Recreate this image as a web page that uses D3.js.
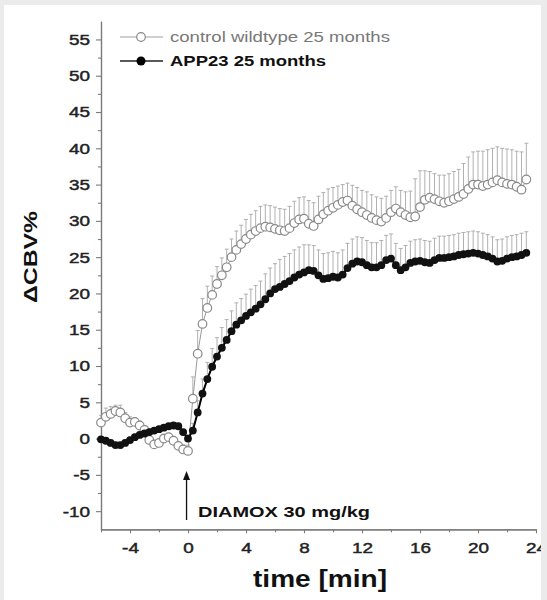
<!DOCTYPE html>
<html>
<head>
<meta charset="utf-8">
<script src="https://cdn.jsdelivr.net/npm/d3@7"></script>
<style>
	html, body { margin: 0; padding: 0; background: #ebebeb; }
	svg { display: block; }
	text { font-family: "Liberation Sans", Arial, sans-serif; }
</style>
</head>
<body>
<svg id="chart" width="547" height="600"></svg>
<script>
// sampling grid: one point every 20 s, starting 6 min before injection
var startTime = -6;
var stepTime = 1 / 3;

var controlValues = [
	2.2, 3.0, 3.4, 3.8, 3.6, 2.8, 2.2, 2.3, 1.8, 1.2, -0.2, -0.8, -0.6, 0.0, 0.2, -0.3, -1.0, -1.5,
	-1.7, 5.5, 11.7, 15.8, 18.0, 19.8, 21.3, 22.5, 23.6, 25.0, 26.0, 26.8, 27.5, 28.1, 28.6, 29.0,
	29.2, 29.1, 28.9, 28.7, 28.6, 29.0, 29.7, 30.2, 30.3, 29.6, 29.3, 30.2, 30.9, 31.4, 31.8, 32.2,
	32.6, 32.8, 32.1, 31.6, 31.2, 30.8, 30.4, 30.1, 29.9, 30.4, 31.2, 31.7, 31.2, 30.8, 30.5, 30.6,
	31.9, 32.9, 33.2, 33.0, 32.7, 32.5, 32.7, 33.0, 33.3, 33.7, 34.4, 35.0, 35.0, 34.8, 35.0, 35.3,
	35.6, 35.3, 35.1, 35.0, 34.7, 34.3, 35.7];
var controlErrors = [
	1.0, 1.2, 1.0, 0.8, 1.0, 0.8, 0.8, 0.6, 0.6, 0.6, 0.5, 0.5, 0.5, 0.6, 0.5, 0.5, 0.5, 0.6,
	0.8, 3.0, 3.2, 3.5, 3.0, 2.6, 2.4, 2.4, 2.5, 2.5, 2.6, 2.6, 2.7, 2.8, 2.8, 3.0,
	3.0, 3.0, 3.0, 3.0, 3.0, 3.0, 3.0, 3.0, 3.0, 3.2, 3.2, 3.2, 3.0, 3.0, 2.8, 2.6,
	2.4, 2.4, 2.8, 3.0, 3.0, 3.2, 3.2, 3.2, 3.2, 3.0, 3.0, 3.0, 3.0, 3.2, 3.6, 5.2,
	5.0, 4.0, 3.6, 3.5, 3.6, 3.8, 3.8, 3.8, 3.8, 4.2, 4.4, 4.5, 4.6, 4.8, 4.8, 4.7,
	4.6, 4.7, 4.8, 4.8, 4.9, 5.2, 5.0];
var appValues = [
	-0.1, -0.3, -0.6, -0.9, -0.9, -0.6, -0.2, 0.2, 0.5, 0.7, 0.9, 1.1, 1.3, 1.5, 1.7, 1.8, 1.7, 0.9,
	0.0, 1.1, 3.6, 6.2, 8.2, 9.9, 11.3, 12.5, 13.6, 14.8, 15.7, 16.3, 16.9, 17.4, 17.9, 18.5,
	19.2, 20.0, 20.6, 20.9, 21.3, 21.7, 22.2, 22.6, 22.9, 23.2, 23.1, 22.5, 22.0, 22.1, 22.3, 22.2,
	22.6, 23.5, 24.1, 24.4, 24.3, 23.9, 23.6, 23.6, 23.9, 24.6, 24.8, 23.9, 23.2, 23.6, 24.2, 24.4,
	24.5, 24.3, 24.2, 24.6, 24.9, 24.9, 25.0, 25.1, 25.3, 25.4, 25.5, 25.6, 25.5, 25.3, 25.1, 24.8,
	24.4, 24.5, 24.8, 25.0, 25.1, 25.3, 25.6];
var appErrors = [
	0.4, 0.4, 0.4, 0.4, 0.4, 0.4, 0.4, 0.4, 0.4, 0.4, 0.4, 0.4, 0.4, 0.4, 0.4, 0.4, 0.4, 0.4,
	0.5, 1.0, 1.6, 2.0, 2.3, 2.5, 2.6, 2.8, 2.8, 2.8, 3.0, 3.0, 3.0, 3.2, 3.2, 3.2,
	3.5, 3.5, 3.5, 3.8, 3.8, 3.8, 3.8, 3.8, 3.8, 3.5, 3.5, 3.5, 3.5, 3.5, 3.5, 3.4,
	3.4, 3.4, 3.4, 3.4, 3.4, 3.4, 3.4, 3.4, 3.4, 3.4, 3.4, 3.0, 3.0, 3.0, 3.0, 3.0,
	3.0, 3.0, 3.0, 3.0, 3.0, 3.0, 3.0, 3.0, 3.0, 3.0, 3.0, 3.0, 3.0, 3.0, 3.0, 3.0,
	3.0, 3.0, 3.0, 3.0, 3.0, 3.0, 2.9];

var xMajorTicks = [-4, 0, 4, 8, 12, 16, 20, 24];
var xMinorTicks = [-6, -2, 2, 6, 10, 14, 18, 22];
var yMajorTicks = [-10, -5, 0, 5, 10, 15, 20, 25, 30, 35, 40, 45, 50, 55];
var yMinorTicks = [-7.5, -2.5, 2.5, 7.5, 12.5, 17.5, 22.5, 27.5, 32.5, 37.5, 42.5, 47.5, 52.5];

var seriesNames = ['control wildtype 25 months', 'APP23 25 months'];
var injectionLabel = 'DIAMOX 30 mg/kg';
var injectionTime = -0.1;
var xTitle = 'time [min]';
var yTitle = '\u0394CBV%';

(function(d3){
	'use strict';

	var svg = d3.select('#chart');
	var axisColor = '#7a7a7a';
	var barColor = '#a8a8a8';

	// stretch text along its baseline, the source font is wider than ours
	function widen(sel, k) {
		sel.each(function() {
			var w = this.getComputedTextLength();
			d3.select(this)
				.attr('textLength', w * k)
				.attr('lengthAdjust', 'spacingAndGlyphs');});
	}
	function fitTo(sel, width) {
		sel.attr('textLength', width).attr('lengthAdjust', 'spacingAndGlyphs');
	}
	// plain hyphen for negatives, like the original
	function plain(d) {return String(d);}

	svg.append('rect')
		.attr('x', 4).attr('y', 5)
		.attr('width', 537).attr('height', 595)
		.attr('fill', '#fff');

	var x = d3.scaleLinear().domain([-6, 24]).range([101, 536]);
	var y = d3.scaleLinear().domain([-12.5, 57.5]).range([529.3, 21.3]);

	function rows(values, errors) {
		return values.map(function(v, i) {
			return {t: startTime + i * stepTime, v: v, e: errors[i]};});
	}
	var control = rows(controlValues, controlErrors);
	var app = rows(appValues, appErrors);

	// axes
	var yMinor = svg.append('g')
		.attr('transform', 'translate(' + x(-6) + ',0)')
		.call(d3.axisLeft(y).tickValues(yMinorTicks).tickSize(3).tickSizeOuter(0).tickFormat(''));
	var yMajor = svg.append('g')
		.attr('transform', 'translate(' + x(-6) + ',0)')
		.call(d3.axisLeft(y).tickValues(yMajorTicks).tickSize(5).tickSizeOuter(0)
			.tickPadding(6).tickFormat(plain));
	var xMinor = svg.append('g')
		.attr('transform', 'translate(0,' + y(-12.5) + ')')
		.call(d3.axisBottom(x).tickValues(xMinorTicks).tickSize(3).tickSizeOuter(0).tickFormat(''));
	var xMajor = svg.append('g')
		.attr('transform', 'translate(0,' + y(-12.5) + ')')
		.call(d3.axisBottom(x).tickValues(xMajorTicks).tickSize(4).tickSizeOuter(0)
			.tickPadding(9).tickFormat(plain));

	[yMinor, yMajor, xMinor, xMajor].forEach(function(g) {
		g.select('.domain').attr('stroke', axisColor).attr('stroke-width', 1.2);
		g.selectAll('.tick line').attr('stroke', axisColor).attr('stroke-width', 1.1);
		g.selectAll('.tick text')
			.attr('fill', '#222')
			.attr('stroke', '#222')
			.attr('stroke-width', 0.45)
			.style('font-size', '15.5px')
			.style('font-family', '"Liberation Sans", Arial, sans-serif');
	});
	widen(yMajor.selectAll('.tick text'), 1.22);
	widen(xMajor.selectAll('.tick text'), 1.22);

	// error bars, upward only
	function drawBars(data) {
		svg.append('g').selectAll('path').data(data).enter().append('path')
			.attr('d', function(d) {
				var px = x(d.t), top = y(d.v + d.e);
				return 'M' + px + ',' + y(d.v) + 'V' + top +
					'M' + (px - 2) + ',' + top + 'H' + (px + 2);})
			.attr('fill', 'none')
			.attr('stroke', barColor)
			.attr('stroke-width', 0.9);
	}
	drawBars(control);
	drawBars(app);

	var line = d3.line()
		.x(function(d) {return x(d.t);})
		.y(function(d) {return y(d.v);});

	svg.append('path').datum(control)
		.attr('d', line)
		.attr('fill', 'none')
		.attr('stroke', '#9a9a9a')
		.attr('stroke-width', 1);
	svg.append('g').selectAll('circle').data(control).enter().append('circle')
		.attr('cx', function(d) {return x(d.t);})
		.attr('cy', function(d) {return y(d.v);})
		.attr('r', 4.3)
		.attr('fill', '#fff')
		.attr('stroke', '#8a8a8a')
		.attr('stroke-width', 1.2);

	svg.append('path').datum(app)
		.attr('d', line)
		.attr('fill', 'none')
		.attr('stroke', '#000')
		.attr('stroke-width', 2);
	svg.append('g').selectAll('circle').data(app).enter().append('circle')
		.attr('cx', function(d) {return x(d.t);})
		.attr('cy', function(d) {return y(d.v);})
		.attr('r', 3.9)
		.attr('fill', '#111');

	// legend
	var legend = svg.append('g');
	var legendRows = [
		{name: seriesNames[0], y: 37, open: true, width: 220},
		{name: seriesNames[1], y: 61, open: false, width: 156}];
	legendRows.forEach(function(row) {
		legend.append('line')
			.attr('x1', 120).attr('x2', 163)
			.attr('y1', row.y).attr('y2', row.y)
			.attr('stroke', row.open ? '#a0a0a0' : '#222')
			.attr('stroke-width', row.open ? 1 : 1.3);
		legend.append('circle')
			.attr('cx', 141).attr('cy', row.y)
			.attr('r', row.open ? 4.3 : 4.5)
			.attr('fill', row.open ? '#fff' : '#000')
			.attr('stroke', row.open ? '#8a8a8a' : 'none')
			.attr('stroke-width', 1.2);
		legend.append('text')
			.attr('x', 170).attr('y', row.y + 5)
			.attr('fill', row.open ? '#777' : '#111')
			.style('font-size', '14px')
			.style('font-weight', row.open ? 'normal' : 'bold')
			.text(row.name)
			.call(fitTo, row.width);
	});

	// injection marker
	var ax = x(injectionTime);
	svg.append('line')
		.attr('x1', ax).attr('x2', ax)
		.attr('y1', 520).attr('y2', 478)
		.attr('stroke', '#111')
		.attr('stroke-width', 1.3);
	svg.append('path')
		.attr('d', 'M' + ax + ',471L' + (ax - 3.5) + ',480L' + (ax + 3.5) + ',480Z')
		.attr('fill', '#111');
	svg.append('text')
		.attr('x', 198).attr('y', 517)
		.attr('fill', '#111')
		.style('font-size', '15px')
		.style('font-weight', 'bold')
		.text(injectionLabel)
		.call(fitTo, 172);

	// axis titles
	svg.append('text')
		.attr('x', 320).attr('y', 587)
		.attr('text-anchor', 'middle')
		.attr('fill', '#111')
		.style('font-size', '24px')
		.style('font-weight', 'bold')
		.text(xTitle)
		.call(fitTo, 134);
	svg.append('text')
		.attr('transform', 'translate(37,257) rotate(-90)')
		.attr('text-anchor', 'middle')
		.attr('fill', '#111')
		.style('font-size', '19px')
		.style('font-weight', 'bold')
		.text(yTitle)
		.call(fitTo, 92);

	// right margin of the page hides part of the last tick label
	svg.append('rect')
		.attr('x', 541).attr('y', 0)
		.attr('width', 6).attr('height', 600)
		.attr('fill', '#ebebeb');

})(d3);
</script>
</body>
</html>
